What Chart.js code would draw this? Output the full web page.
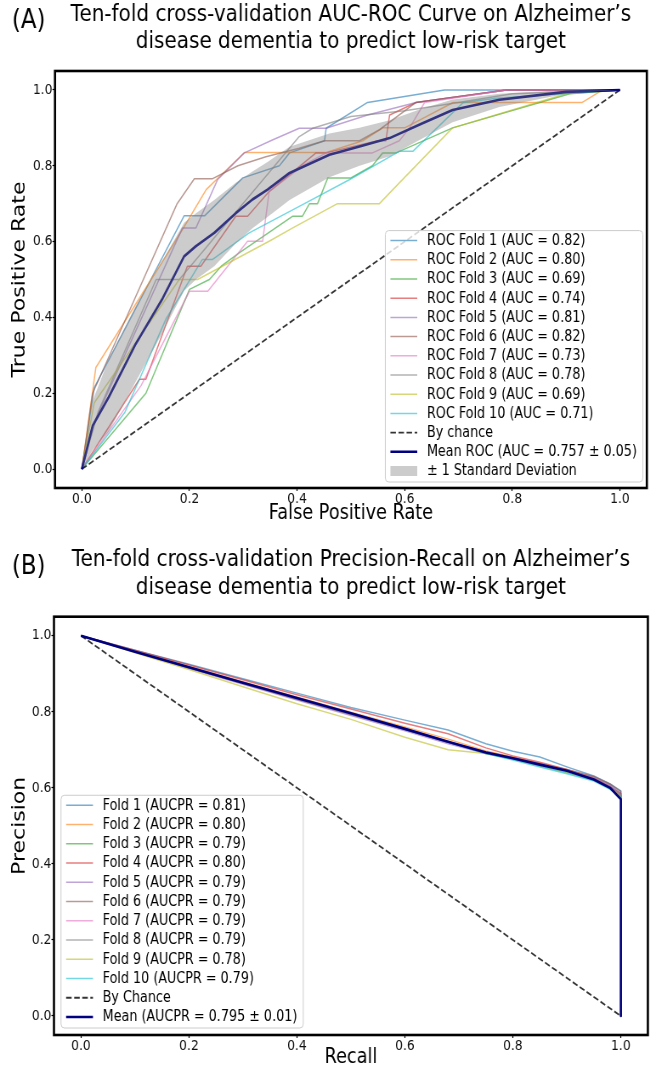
<!DOCTYPE html>
<html>
<head>
<meta charset="utf-8">
<title>Ten-fold cross-validation curves</title>
<script src="https://cdn.jsdelivr.net/npm/chart.js@4.4.1/dist/chart.umd.min.js"></script>
<style>
  html, body { margin: 0; padding: 0; background: #fff; }
  #page { width: 656px; height: 1071px; overflow: hidden; }
  canvas { display: block; }
</style>
</head>
<body>
<div id="page">
  <!-- canvases are drawn wider and squeezed to 656px, like the source figure -->
  <canvas id="roc-chart" width="772" height="530" style="width:656px;height:530px"></canvas>
  <canvas id="pr-chart" width="772" height="541" style="width:656px;height:541px"></canvas>
</div>
<script>
// ---- shared axis ticks ----
const tickValues = [0, 0.2, 0.4, 0.6, 0.8, 1.0];

// ---- ROC curves, one array pair per fold ----
const fpr1 = [0, 0.023, 0.19, 0.228, 0.299, 0.367, 0.386, 0.451, 0.454, 0.531, 0.674, 1.0];
const tpr1 = [0, 0.215, 0.668, 0.668, 0.768, 0.80, 0.834, 0.866, 0.899, 0.967, 1.0, 1.0];
const fpr2 = [0, 0.026, 0.187, 0.231, 0.302, 0.454, 0.522, 0.559, 0.60, 0.69, 0.93, 0.968, 1.0];
const tpr2 = [0, 0.268, 0.632, 0.737, 0.835, 0.835, 0.866, 0.90, 0.90, 0.967, 0.967, 1.0, 1.0];
const fpr3 = [0, 0.119, 0.2, 0.237, 0.259, 0.293, 0.392, 0.41, 0.423, 0.438, 0.457, 0.50, 0.54, 0.559, 0.584, 0.689, 0.907, 1.0];
const tpr3 = [0, 0.20, 0.474, 0.50, 0.535, 0.571, 0.667, 0.667, 0.70, 0.70, 0.768, 0.768, 0.80, 0.834, 0.834, 0.90, 0.99, 1.0];
const fpr4 = [0, 0.107, 0.119, 0.196, 0.221, 0.286, 0.308, 0.348, 0.435, 0.454, 0.55, 0.565, 0.572, 0.621, 0.789, 1.0];
const tpr4 = [0, 0.237, 0.237, 0.535, 0.535, 0.667, 0.667, 0.732, 0.834, 0.834, 0.866, 0.866, 0.934, 0.967, 1.0, 1.0];
const fpr5 = [0, 0.02, 0.187, 0.212, 0.252, 0.302, 0.354, 0.404, 0.454, 0.531, 0.621, 0.789, 1.0];
const tpr5 = [0, 0.114, 0.636, 0.636, 0.763, 0.834, 0.868, 0.899, 0.899, 0.934, 0.967, 1.0, 1.0];
const fpr6 = [0, 0.02, 0.177, 0.209, 0.243, 0.29, 0.342, 0.404, 0.451, 0.516, 0.553, 0.621, 0.789, 1.0];
const tpr6 = [0, 0.20, 0.70, 0.766, 0.766, 0.80, 0.824, 0.846, 0.866, 0.866, 0.895, 0.967, 1.0, 1.0];
const fpr7 = [0, 0.11, 0.2, 0.234, 0.308, 0.336, 0.348, 0.41, 0.454, 0.54, 0.59, 0.609, 0.637, 0.789, 1.0];
const tpr7 = [0, 0.22, 0.469, 0.469, 0.601, 0.601, 0.732, 0.80, 0.834, 0.834, 0.866, 0.90, 0.967, 1.0, 1.0];
const fpr8 = [0, 0.03, 0.138, 0.181, 0.404, 0.429, 0.50, 0.60, 0.70, 0.80, 1.0];
const tpr8 = [0, 0.15, 0.50, 0.50, 0.877, 0.899, 0.93, 0.945, 0.967, 0.99, 1.0];
const fpr9 = [0, 0.023, 0.181, 0.215, 0.348, 0.392, 0.475, 0.553, 0.59, 0.689, 0.90, 1.0];
const tpr9 = [0, 0.175, 0.50, 0.50, 0.601, 0.636, 0.70, 0.70, 0.755, 0.90, 0.99, 1.0];
const fpr10 = [0, 0.08, 0.156, 0.224, 0.243, 0.311, 0.404, 0.497, 0.59, 0.615, 0.708, 0.77, 1.0];
const tpr10 = [0, 0.15, 0.395, 0.553, 0.553, 0.623, 0.693, 0.763, 0.838, 0.838, 0.966, 0.978, 1.0];
const rocFprFolds = [fpr1, fpr2, fpr3, fpr4, fpr5, fpr6, fpr7, fpr8, fpr9, fpr10];
const rocTprFolds = [tpr1, tpr2, tpr3, tpr4, tpr5, tpr6, tpr7, tpr8, tpr9, tpr10];
const rocAuc = ['0.82', '0.80', '0.69', '0.74', '0.81', '0.82', '0.73', '0.78', '0.69', '0.71'];

// mean ROC and the +/- 1 std band edges
const meanFpr = [0, 0.02, 0.05, 0.1, 0.15, 0.19, 0.212, 0.246, 0.286, 0.317, 0.345, 0.386, 0.46, 0.516, 0.572, 0.63, 0.689, 0.776, 0.9, 1.0];
const meanTpr = [0, 0.114, 0.19, 0.33, 0.45, 0.561, 0.588, 0.623, 0.675, 0.711, 0.737, 0.781, 0.829, 0.851, 0.873, 0.91, 0.947, 0.974, 0.995, 1.0];
const bandUpper = [0, 0.18, 0.29, 0.43, 0.55, 0.65, 0.675, 0.71, 0.755, 0.785, 0.81, 0.85, 0.885, 0.90, 0.92, 0.95, 0.975, 0.99, 1.0, 1.0];
const bandLower = [0, 0.05, 0.10, 0.23, 0.36, 0.47, 0.50, 0.535, 0.595, 0.635, 0.665, 0.71, 0.77, 0.80, 0.825, 0.87, 0.915, 0.955, 0.99, 1.0];
const rocChanceX = [0, 1];
const rocChanceY = [0, 1];

// ---- Precision-Recall curves ----
const recallGrid = [0, 0.1, 0.2, 0.3, 0.4, 0.5, 0.6, 0.68, 0.75, 0.8, 0.85, 0.9, 0.95, 0.98, 1.0, 1.0];
const prec1 = [1.0, 0.962, 0.925, 0.887, 0.849, 0.811, 0.778, 0.752, 0.716, 0.696, 0.681, 0.655, 0.631, 0.61, 0.592, 0];
const prec2 = [1.0, 0.959, 0.919, 0.879, 0.839, 0.799, 0.76, 0.728, 0.697, 0.681, 0.664, 0.647, 0.627, 0.605, 0.575, 0];
const prec3 = [1.0, 0.958, 0.917, 0.876, 0.835, 0.795, 0.754, 0.72, 0.69, 0.675, 0.657, 0.64, 0.62, 0.598, 0.58, 0];
const prec4 = [1.0, 0.962, 0.923, 0.884, 0.845, 0.807, 0.77, 0.742, 0.705, 0.684, 0.667, 0.648, 0.625, 0.603, 0.585, 0];
const prec5 = [1.0, 0.957, 0.914, 0.872, 0.831, 0.79, 0.75, 0.716, 0.69, 0.677, 0.661, 0.645, 0.628, 0.607, 0.585, 0];
const prec6 = [1.0, 0.958, 0.916, 0.874, 0.833, 0.793, 0.753, 0.72, 0.695, 0.68, 0.664, 0.648, 0.63, 0.61, 0.59, 0];
const prec7 = [1.0, 0.958, 0.917, 0.876, 0.836, 0.796, 0.756, 0.722, 0.694, 0.679, 0.663, 0.646, 0.626, 0.604, 0.58, 0];
const prec8 = [1.0, 0.958, 0.916, 0.875, 0.834, 0.794, 0.754, 0.72, 0.693, 0.678, 0.662, 0.645, 0.625, 0.603, 0.582, 0];
const prec9 = [1.0, 0.955, 0.911, 0.866, 0.821, 0.78, 0.733, 0.70, 0.69, 0.678, 0.66, 0.643, 0.622, 0.60, 0.575, 0];
const prec10 = [1.0, 0.959, 0.918, 0.877, 0.837, 0.797, 0.757, 0.722, 0.69, 0.673, 0.655, 0.637, 0.618, 0.596, 0.575, 0];
const precMean = [1.0, 0.958, 0.917, 0.876, 0.836, 0.796, 0.755, 0.721, 0.693, 0.678, 0.661, 0.645, 0.622, 0.60, 0.57, 0];
const precFolds = [prec1, prec2, prec3, prec4, prec5, prec6, prec7, prec8, prec9, prec10];
const prAuc = ['0.81', '0.80', '0.79', '0.80', '0.79', '0.79', '0.79', '0.79', '0.78', '0.79'];
const prChanceX = [0, 1];
const prChanceY = [1, 0];

// matplotlib tab10 colours
const foldColors = ['31,119,180', '255,127,14', '44,160,44', '214,39,40', '148,103,189',
                    '140,86,75', '227,119,194', '127,127,127', '188,189,34', '23,190,207'];

Chart.defaults.font.family = '"DejaVu Sans", sans-serif';
Chart.defaults.color = '#000';

function points(xs, ys) {
    return xs.map((x, i) => ({ x: x, y: ys[i] }));
}

function foldLine(label, xs, ys, i) {
    return {
        label: label,
        data: points(xs, ys),
        borderColor: `rgba(${foldColors[i]},0.6)`,
        borderWidth: 1.5,
        order: 20 - i
    };
}

// Axis set up to match matplotlib: 5% margins, ticks every 0.2
function axis(titleText, isX, size, titleFont, titlePadding) {
    return {
        type: 'linear',
        min: -0.05,
        max: 1.05,
        afterBuildTicks: (scale) => { scale.ticks = tickValues.map(v => ({ value: v })); },
        afterFit: (scale) => { if (isX) scale.height = size; else scale.width = size; },
        ticks: {
            callback: (v) => Number(v).toFixed(1),
            font: { size: 14.5 },
            color: '#111',
            padding: 0,
            maxRotation: 0,
            autoSkip: false
        },
        grid: { display: true, drawOnChartArea: false, drawTicks: true, tickLength: 3, tickColor: '#000', tickWidth: 1.2 },
        border: { display: false },
        title: { display: true, text: titleText, font: { size: titleFont, lineHeight: 1.2 }, color: '#000', padding: titlePadding }
    };
}

// Black box round the plot area
const framePlugin = {
    id: 'frame',
    afterDatasetsDraw(chart) {
        const { ctx, chartArea: a } = chart;
        ctx.save();
        ctx.strokeStyle = '#000';
        ctx.lineWidth = 2.6;
        ctx.strokeRect(a.left, a.top, a.right - a.left, a.bottom - a.top);
        ctx.restore();
    }
};

// Legend drawn inside the plot, on top of the lines
const boxLegend = {
    id: 'boxLegend',
    afterDatasetsDraw(chart, args, opts) {
        const ctx = chart.ctx;
        const area = chart.chartArea;
        const items = chart.data.datasets.filter(d => d.label);
        const rowH = opts.rowHeight;
        ctx.save();
        ctx.font = '15px "DejaVu Sans", sans-serif';
        const textW = Math.max(...items.map(d => ctx.measureText(d.label).width));
        const w = 49 + textW + 7;
        const h = 21 + (items.length - 1) * rowH;
        const left = opts.side === 'left' ? area.left + opts.dx : area.right - opts.dx - w;
        const top = area.bottom - opts.dy - h;

        ctx.beginPath();
        ctx.roundRect(left, top, w, h, 4);
        ctx.fillStyle = 'rgba(255,255,255,0.8)';
        ctx.fill();
        ctx.strokeStyle = '#cccccc';
        ctx.lineWidth = 1;
        ctx.stroke();

        items.forEach((d, i) => {
            const y = top + 10 + i * rowH;
            if (d.fill) {
                ctx.fillStyle = d.backgroundColor;
                ctx.fillRect(left + 6, y - 5, 31.6, 10);
            } else {
                ctx.beginPath();
                ctx.setLineDash(d.borderDash || []);
                ctx.strokeStyle = d.borderColor;
                ctx.lineWidth = d.borderWidth;
                ctx.moveTo(left + 6, y);
                ctx.lineTo(left + 37.6, y);
                ctx.stroke();
                ctx.setLineDash([]);
            }
            ctx.fillStyle = '#000';
            ctx.textBaseline = 'middle';
            ctx.textAlign = 'left';
            ctx.fillText(d.label, left + 49, y + 0.5);
        });
        ctx.restore();
    }
};

// "(A)" / "(B)" panel letters
const panelLetter = {
    id: 'panelLetter',
    afterDraw(chart, args, opts) {
        const ctx = chart.ctx;
        ctx.save();
        ctx.font = '27px "DejaVu Sans", sans-serif';
        ctx.fillStyle = '#000';
        ctx.textBaseline = 'middle';
        ctx.textAlign = 'left';
        ctx.fillText(opts.text, opts.x, opts.y);
        ctx.restore();
    }
};

function baseOptions(titleLines, titlePadding, layoutRight, yTitle, xTitle, yWidth, xHeight, xTitlePad, legendOpts, letterOpts) {
    return {
        responsive: false,
        devicePixelRatio: 1,
        animation: false,
        events: [],
        layout: { padding: { left: 0, right: layoutRight, top: 0, bottom: 0 } },
        elements: {
            point: { radius: 0, hoverRadius: 0 },
            line: { tension: 0, fill: false, borderJoinStyle: 'round' }
        },
        scales: {
            x: axis(xTitle, true, xHeight, 20.8, { top: 0, bottom: xTitlePad }),
            y: axis(yTitle, false, yWidth, 22, { top: 10.3, bottom: 0 })
        },
        plugins: {
            legend: { display: false },
            tooltip: { enabled: false },
            title: {
                display: true,
                text: titleLines,
                fullSize: false,
                color: '#000',
                font: { size: 23.5, weight: 'normal', lineHeight: 1.17 },
                padding: titlePadding
            },
            boxLegend: legendOpts,
            panelLetter: letterOpts
        }
    };
}

// ---- ROC chart ----
const rocDatasets = rocFprFolds.map((xs, i) =>
    foldLine(`ROC Fold ${i + 1} (AUC = ${rocAuc[i]})`, xs, rocTprFolds[i], i));
rocDatasets.push({
    label: 'By chance',
    data: points(rocChanceX, rocChanceY),
    borderColor: 'rgba(0,0,0,0.8)',
    borderWidth: 1.8,
    borderDash: [6.5, 3],
    order: 3
});
rocDatasets.push({
    label: 'Mean ROC (AUC = 0.757 \u00b1 0.05)',
    data: points(meanFpr, meanTpr),
    borderColor: '#000080',
    borderWidth: 2.6,
    order: 2
});
rocDatasets.push({
    label: '\u00b1 1 Standard Deviation',
    data: points(meanFpr, bandUpper),
    borderColor: 'rgba(0,0,0,0)',
    borderWidth: 0,
    backgroundColor: 'rgba(128,128,128,0.4)',
    fill: '+1',
    order: 1
});
rocDatasets.push({
    data: points(meanFpr, bandLower),
    borderColor: 'rgba(0,0,0,0)',
    borderWidth: 0,
    order: 1
});

new Chart(document.getElementById('roc-chart'), {
    type: 'line',
    data: { datasets: rocDatasets },
    options: baseOptions(
        ['Ten-fold cross-validation AUC-ROC Curve on Alzheimer\u2019s', 'disease dementia to predict low-risk target'],
        { top: 0.7, bottom: 15.3 }, 10.8,
        'True Positive Rate', 'False Positive Rate', 64.7, 42, 3.5,
        { side: 'right', dx: 4.7, dy: 6, rowHeight: 19.2 },
        { text: '(A)', x: 14, y: 21 }
    ),
    plugins: [framePlugin, boxLegend, panelLetter]
});

// ---- Precision-Recall chart ----
const prDatasets = precFolds.map((ys, i) =>
    foldLine(`Fold ${i + 1} (AUCPR = ${prAuc[i]})`, recallGrid, ys, i));
prDatasets.push({
    label: 'By Chance',
    data: points(prChanceX, prChanceY),
    borderColor: 'rgba(0,0,0,0.8)',
    borderWidth: 1.8,
    borderDash: [6.5, 3],
    order: 3
});
prDatasets.push({
    label: 'Mean (AUCPR = 0.795 \u00b1 0.01)',
    data: points(recallGrid, precMean),
    borderColor: '#000080',
    borderWidth: 2.6,
    order: 2
});

new Chart(document.getElementById('pr-chart'), {
    type: 'line',
    data: { datasets: prDatasets },
    options: baseOptions(
        ['Ten-fold cross-validation Precision-Recall on Alzheimer\u2019s', 'disease dementia to predict low-risk target'],
        { top: 16.6, bottom: 15.1 }, 9.6,
        'Precision', 'Recall', 63.5, 36, 0.5,
        { side: 'left', dx: 8.3, dy: 7, rowHeight: 19.25 },
        { text: '(B)', x: 14, y: 37 }
    ),
    plugins: [framePlugin, boxLegend, panelLetter]
});
</script>
</body>
</html>
